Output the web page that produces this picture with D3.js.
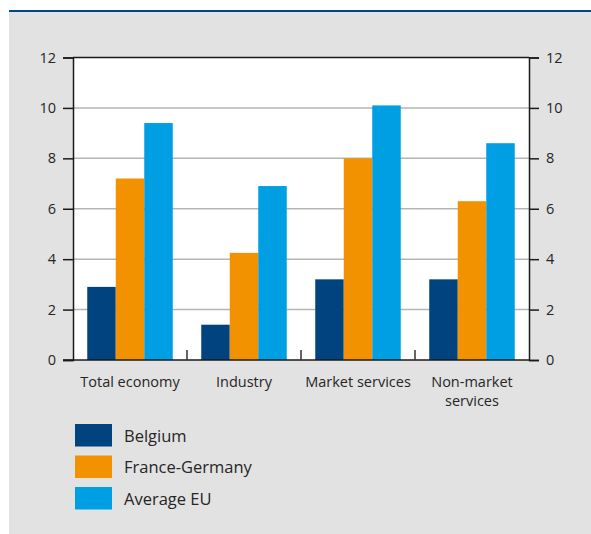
<!DOCTYPE html>
<html>
<head>
<meta charset="utf-8">
<script src="https://cdn.jsdelivr.net/npm/d3@7"></script>
<style>
  html, body { margin: 0; padding: 0; background: #ffffff; }
  svg text { font-family: "Open Sans", "Noto Sans", sans-serif; fill: #262626; }
</style>
</head>
<body>
<svg id="chart" width="591" height="534"></svg>
<script>
// Sectors and series values (percentages)
const categories = ["Total economy", "Industry", "Market services", "Non-market services"];
const categoryLines = [["Total economy"], ["Industry"], ["Market services"], ["Non-market", "services"]];
const seriesNames = ["Belgium", "France-Germany", "Average EU"];
const belgium = [2.9, 1.4, 3.2, 3.2];
const franceGermany = [7.2, 4.25, 8.0, 6.3];
const averageEU = [9.4, 6.9, 10.1, 8.6];
const yTicks = [0, 2, 4, 6, 8, 10, 12];
const colors = ["#00437f", "#f39200", "#009fe3"];

const seriesValues = [belgium, franceGermany, averageEU];

const svg = d3.select("#chart");

// panel background and top rule
svg.append("rect").attr("x", 9).attr("y", 11).attr("width", 582).attr("height", 523).attr("fill", "#e2e2e2");
svg.append("rect").attr("x", 9).attr("y", 10).attr("width", 582).attr("height", 2).attr("fill", "#00468b");

const plot = { left: 73, right: 529, top: 57.5, bottom: 360 };

const x0 = d3.scaleBand().domain(categories).range([plot.left, plot.right]).paddingInner(0).paddingOuter(0);
const x1 = d3.scaleBand().domain(seriesNames).range([0, x0.bandwidth()]).paddingOuter(0.5).paddingInner(0);
const y = d3.scaleLinear().domain([0, 12]).range([plot.bottom, plot.top]);

// plot background
svg.append("rect").attr("x", plot.left).attr("y", plot.top)
  .attr("width", plot.right - plot.left).attr("height", plot.bottom - plot.top).attr("fill", "#ffffff");

// gridlines
svg.append("g").selectAll("line").data(yTicks.filter(t => t > 0 && t < 12)).join("line")
  .attr("x1", plot.left).attr("x2", plot.right)
  .attr("y1", d => y(d)).attr("y2", d => y(d))
  .attr("stroke", "#b5b5b5").attr("stroke-width", 1.5);

// bars
const groups = svg.append("g").selectAll("g").data(categories).join("g")
  .attr("transform", d => `translate(${x0(d)},0)`);
groups.selectAll("rect").data((c, i) => seriesNames.map((s, j) => ({ s, j, v: seriesValues[j][i] }))).join("rect")
  .attr("x", d => x1(d.s)).attr("width", x1.bandwidth())
  .attr("y", d => y(d.v)).attr("height", d => y(0) - y(d.v))
  .attr("fill", d => colors[d.j]);

// left axis
const leftAxis = svg.append("g").attr("transform", `translate(${plot.left},0)`)
  .call(d3.axisLeft(y).tickValues(yTicks).tickSize(10).tickPadding(7));
// right axis
const rightAxis = svg.append("g").attr("transform", `translate(${plot.right},0)`)
  .call(d3.axisRight(y).tickValues(yTicks).tickSize(10).tickPadding(7));
[leftAxis, rightAxis].forEach(a => {
  a.select(".domain").attr("stroke", "#1a1a1a").attr("stroke-width", 1.5);
  a.selectAll(".tick line").attr("stroke", "#1a1a1a").attr("stroke-width", 1.5);
  a.selectAll(".tick text").attr("font-size", 14.5).attr("fill", "#262626")
    .style("font-family", '"Open Sans", "Noto Sans", sans-serif');
});

// top border and baseline
svg.append("line").attr("x1", plot.left).attr("x2", plot.right).attr("y1", plot.top).attr("y2", plot.top)
  .attr("stroke", "#1a1a1a").attr("stroke-width", 1.5);
svg.append("line").attr("x1", plot.left - 10).attr("x2", plot.right).attr("y1", plot.bottom).attr("y2", plot.bottom)
  .attr("stroke", "#1a1a1a").attr("stroke-width", 1.5);

// category separators
svg.append("g").selectAll("line").data(categories.slice(1)).join("line")
  .attr("x1", d => x0(d)).attr("x2", d => x0(d))
  .attr("y1", plot.bottom).attr("y2", plot.bottom - 10)
  .attr("stroke", "#333333").attr("stroke-width", 1.5);

// category labels
const labels = svg.append("g").selectAll("text").data(categories).join("text")
  .attr("x", d => x0(d) + x0.bandwidth() / 2)
  .attr("y", 387)
  .attr("text-anchor", "middle")
  .attr("font-size", 14.5);
labels.each(function (d, i) {
  const t = d3.select(this);
  categoryLines[i].forEach((line, k) => {
    t.append("tspan").attr("x", x0(d) + x0.bandwidth() / 2).attr("dy", k === 0 ? 0 : 19).text(line);
  });
});

// legend
const legend = svg.append("g").selectAll("g").data(seriesNames).join("g")
  .attr("transform", (d, i) => `translate(75,${424 + i * 31.5})`);
legend.append("rect").attr("width", 37).attr("height", 22.5).attr("fill", (d, i) => colors[i]);
legend.append("text").attr("x", 49).attr("y", 17.5).attr("font-size", 16.5).text(d => d);
</script>
</body>
</html>
